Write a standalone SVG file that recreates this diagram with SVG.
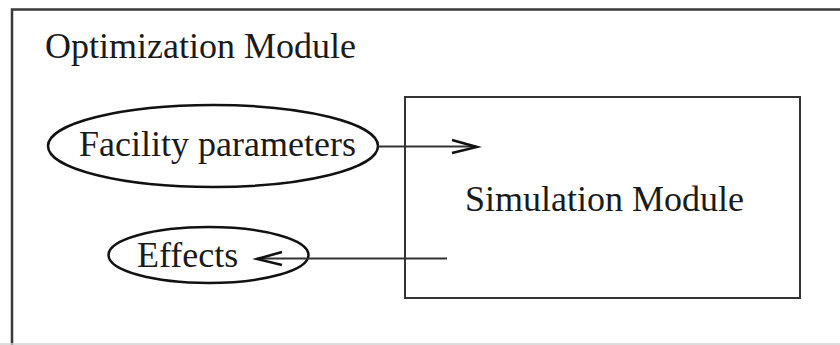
<svg xmlns="http://www.w3.org/2000/svg" width="840" height="345" viewBox="0 0 840 345">
<style>
text{font-family:"Liberation Serif","Times New Roman",serif;font-size:36px;fill:#1a1a1a}
.box{fill:none;stroke:#333;stroke-width:2}
.outer{fill:none;stroke:#3a3a3a;stroke-width:2.5}
.ell{fill:none;stroke:#111;stroke-width:2.5}
.conn{stroke:#333;stroke-width:2;fill:none}
.head{stroke:#111;stroke-width:2.5;fill:none}
</style>
<rect width="840" height="345" fill="#fff"/>
<g id="optimization-module">
<path class="outer" d="M840,9.5 H12 V345"/>
<line x1="0" y1="344" x2="840" y2="344" stroke="#d0d0d0" stroke-width="1.5"/>
<text x="45" y="58">Optimization Module</text>
</g>
<g id="simulation-module">
<rect class="box" x="405" y="97" width="395" height="201"/>
<text x="465" y="211">Simulation Module</text>
</g>
<g id="facility-parameters">
<ellipse class="ell" cx="213" cy="146" rx="165" ry="41"/>
<text x="79" y="156">Facility parameters</text>
</g>
<g id="effects">
<ellipse class="ell" cx="208.5" cy="255" rx="100" ry="28"/>
<text x="137" y="267">Effects</text>
</g>
<g id="connectors">
<line class="conn" x1="378" y1="146.5" x2="476" y2="146.5"/>
<polyline class="head" points="452,140 477,147 452,153"/>
<line class="conn" x1="447" y1="258.5" x2="257" y2="258.5"/>
<polyline class="head" points="282,252 257,259 282,265"/>
</g>
</svg>
